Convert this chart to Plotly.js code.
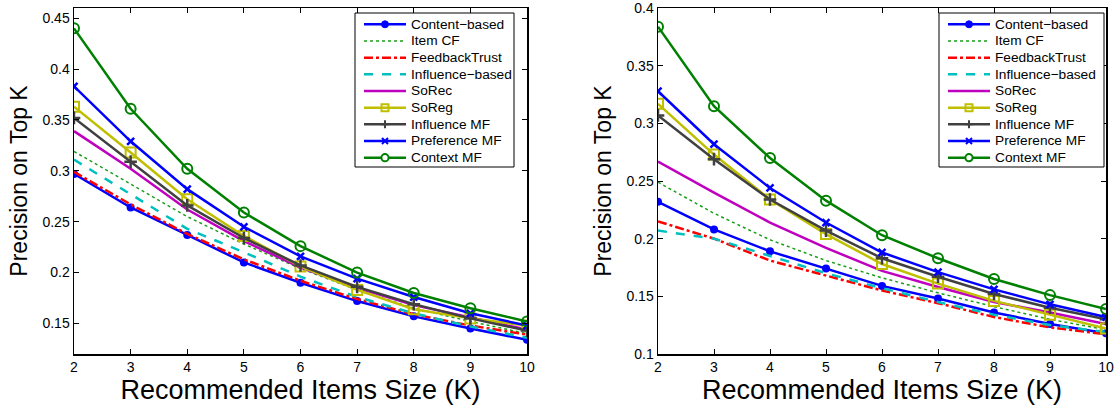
<!DOCTYPE html>
<html>
<head>
<meta charset="utf-8">
<script src="https://cdn.plot.ly/plotly-3.0.1.min.js"></script>
<style>html,body{margin:0;padding:0;background:#fff;}#chart{width:1118px;height:407px;}</style>
</head>
<body>
<div id="chart"></div>
<script>
const K = [2, 3, 4, 5, 6, 7, 8, 9, 10];
const seriesNames = ["Content\u2212based", "Item CF", "FeedbackTrust", "Influence\u2212based", "SoRec", "SoReg", "Influence MF", "Preference MF", "Context MF"];

// Left panel
const leftContentBased   = [0.297, 0.264, 0.237, 0.210, 0.190, 0.172, 0.157, 0.145, 0.134];
const leftItemCF         = [0.319, 0.287, 0.255, 0.228, 0.204, 0.183, 0.165, 0.152, 0.140];
const leftFeedbackTrust  = [0.299, 0.267, 0.238, 0.213, 0.192, 0.174, 0.159, 0.148, 0.139];
const leftInfluenceBased = [0.311, 0.277, 0.243, 0.220, 0.196, 0.176, 0.160, 0.147, 0.136];
const leftSoRec          = [0.339, 0.302, 0.262, 0.231, 0.205, 0.185, 0.168, 0.156, 0.144];
const leftSoReg          = [0.363, 0.318, 0.272, 0.236, 0.206, 0.183, 0.164, 0.155, 0.148];
const leftInfluenceMF    = [0.352, 0.309, 0.266, 0.234, 0.207, 0.186, 0.169, 0.155, 0.143];
const leftPreferenceMF   = [0.383, 0.329, 0.282, 0.245, 0.216, 0.194, 0.176, 0.160, 0.148];
const leftContextMF      = [0.440, 0.361, 0.302, 0.259, 0.226, 0.200, 0.180, 0.165, 0.152];

// Right panel
const rightContentBased   = [0.232, 0.208, 0.189, 0.174, 0.159, 0.148, 0.136, 0.126, 0.118];
const rightItemCF         = [0.249, 0.222, 0.199, 0.181, 0.166, 0.153, 0.141, 0.130, 0.121];
const rightFeedbackTrust  = [0.215, 0.200, 0.181, 0.168, 0.155, 0.144, 0.132, 0.123, 0.117];
const rightInfluenceBased = [0.207, 0.200, 0.185, 0.170, 0.157, 0.145, 0.134, 0.125, 0.119];
const rightSoRec          = [0.267, 0.240, 0.214, 0.192, 0.172, 0.158, 0.145, 0.136, 0.126];
const rightSoReg          = [0.317, 0.273, 0.234, 0.204, 0.178, 0.161, 0.146, 0.134, 0.122];
const rightInfluenceMF    = [0.307, 0.269, 0.234, 0.207, 0.183, 0.167, 0.152, 0.140, 0.130];
const rightPreferenceMF   = [0.328, 0.282, 0.244, 0.214, 0.188, 0.171, 0.156, 0.143, 0.132];
const rightContextMF      = [0.384, 0.315, 0.270, 0.233, 0.203, 0.183, 0.165, 0.151, 0.139];

const leftYTicks  = [0.15, 0.2, 0.25, 0.3, 0.35, 0.4, 0.45];
const leftYText   = ["0.15", "0.2", "0.25", "0.3", "0.35", "0.4", "0.45"];
const rightYTicks = [0.1, 0.15, 0.2, 0.25, 0.3, 0.35, 0.4];
const rightYText  = ["0.1", "0.15", "0.2", "0.25", "0.3", "0.35", "0.4"];

const COLORS = ["#0000FF", "#1a9e1a", "#FF0000", "#00BFBF", "#BF00BF", "#BFBF00", "#404040", "#0000FF", "#008000"];
const DASHES = ["solid", "dot", "dashdot", "dash", "solid", "solid", "solid", "solid", "solid"];
const WIDTHS = [2.5, 1.5, 2.5, 2.5, 2.5, 2.5, 2.5, 2.5, 2.5];
const MARKERS = [
  {symbol: "circle", size: 8, color: COLORS[0]},
  null, null, null, null,
  {symbol: "square-open", size: 10, color: COLORS[5], line: {width: 2, color: COLORS[5]}},
  {symbol: "cross-thin-open", size: 9, color: COLORS[6], line: {width: 2.5, color: COLORS[6]}},
  {symbol: "x-thin-open", size: 7, color: COLORS[7], line: {width: 2.5, color: COLORS[7]}},
  {symbol: "circle-open", size: 10, color: COLORS[8], line: {width: 2, color: COLORS[8]}}
];

const leftData = [leftContentBased, leftItemCF, leftFeedbackTrust, leftInfluenceBased, leftSoRec, leftSoReg, leftInfluenceMF, leftPreferenceMF, leftContextMF];
const rightData = [rightContentBased, rightItemCF, rightFeedbackTrust, rightInfluenceBased, rightSoRec, rightSoReg, rightInfluenceMF, rightPreferenceMF, rightContextMF];

function makeTrace(ys, i, xa, ya) {
  const t = {x: K, y: ys, name: seriesNames[i], type: "scatter", xaxis: xa, yaxis: ya, showlegend: false,
    mode: MARKERS[i] ? "lines+markers" : "lines",
    line: {color: COLORS[i], width: WIDTHS[i], dash: DASHES[i]}};
  if (MARKERS[i]) t.marker = JSON.parse(JSON.stringify(MARKERS[i]));
  return t;
}
const traces = [];
leftData.forEach((ys, i) => traces.push(makeTrace(ys, i, "x", "y")));
rightData.forEach((ys, i) => traces.push(makeTrace(ys, i, "x2", "y2")));

const FONT = "Liberation Sans, Arial, Helvetica, sans-serif";
const W = 1118, MT = 8, MB = 53, H = 407;
const PH = H - MT - MB;
const px = v => v / W;
const py = v => (H - MB - v) / PH;

const axisCommon = {
  showline: true, linecolor: "#000", linewidth: 1.5, mirror: "ticks",
  ticks: "inside", ticklen: 5, tickwidth: 1, tickcolor: "#000",
  showgrid: false, zeroline: false, ticklabeloverflow: "allow",
  tickfont: {family: FONT, size: 14, color: "#000"}
};
function xAxis(domain, anchor) {
  return Object.assign({}, axisCommon, {
    domain: domain, anchor: anchor, range: [2, 10], tickvals: K, ticktext: K.map(String),
    title: {text: "Recommended Items Size (K)", font: {family: FONT, size: 27, color: "#000"}, standoff: 3}
  });
}
function yAxis(anchor, range, tv, tt) {
  return Object.assign({}, axisCommon, {
    domain: [0, 1], anchor: anchor, range: range, tickvals: tv, ticktext: tt,
    title: {text: "Precision on Top K", font: {family: FONT, size: 23, color: "#000"}, standoff: 8}
  });
}

// Legend (drawn as shapes + text annotations)
const shapes = [];
const annotations = [];
function buildLegend(box, sx0, sx1, tx) {
  shapes.push({type: "rect", xref: "paper", yref: "paper", x0: px(box[0]), x1: px(box[1]), y0: py(box[2]), y1: py(box[3]),
    fillcolor: "#fff", line: {color: "#000", width: 1}, layer: "above"});
  const mx = (sx0 + sx1) / 2;
  seriesNames.forEach((name, i) => {
    const cy = box[2] + 11.3 + i * 16.67;
    shapes.push({type: "line", xref: "paper", yref: "paper", x0: px(sx0), x1: px(sx1), y0: py(cy), y1: py(cy),
      line: {color: COLORS[i], width: WIDTHS[i], dash: DASHES[i]}, layer: "above"});
    const m = MARKERS[i];
    if (m) {
      const c = COLORS[i];
      if (m.symbol === "circle") {
        const r = 3.5;
        shapes.push({type: "circle", xref: "paper", yref: "paper", x0: px(mx - r), x1: px(mx + r), y0: py(cy + r), y1: py(cy - r), fillcolor: c, line: {color: c, width: 1}, layer: "above"});
      } else if (m.symbol === "circle-open") {
        const r = 3.6;
        shapes.push({type: "circle", xref: "paper", yref: "paper", x0: px(mx - r), x1: px(mx + r), y0: py(cy + r), y1: py(cy - r), fillcolor: "#fff", line: {color: c, width: 2}, layer: "above"});
      } else if (m.symbol === "square-open") {
        const r = 3.5;
        shapes.push({type: "rect", xref: "paper", yref: "paper", x0: px(mx - r), x1: px(mx + r), y0: py(cy + r), y1: py(cy - r), fillcolor: "rgba(0,0,0,0)", line: {color: c, width: 2}, layer: "above"});
      } else if (m.symbol === "cross-thin-open") {
        const r = 4;
        shapes.push({type: "path", xref: "paper", yref: "paper", path: `M${px(mx)},${py(cy - r)} L${px(mx)},${py(cy + r)} M${px(mx - r)},${py(cy)} L${px(mx + r)},${py(cy)}`, line: {color: c, width: 2}, layer: "above"});
      } else if (m.symbol === "x-thin-open") {
        const r = 3;
        shapes.push({type: "path", xref: "paper", yref: "paper", path: `M${px(mx - r)},${py(cy - r)} L${px(mx + r)},${py(cy + r)} M${px(mx - r)},${py(cy + r)} L${px(mx + r)},${py(cy - r)}`, line: {color: c, width: 2}, layer: "above"});
      }
    }
    annotations.push({xref: "paper", yref: "paper", x: px(tx), y: py(cy), xanchor: "left", yanchor: "middle", showarrow: false,
      text: name, font: {family: FONT, size: 13.7, color: "#000"}});
  });
}
buildLegend([355, 514, 13, 167], 364, 406, 409);
buildLegend([939, 1104, 13, 167], 948, 990, 993);

const layout = {
  width: W, height: H,
  margin: {l: 0, r: 0, t: MT, b: MB},
  paper_bgcolor: "#fff", plot_bgcolor: "#fff",
  showlegend: false,
  xaxis: xAxis([74 / W, 527 / W], "y"),
  yaxis: yAxis("x", [0.12, 0.46], leftYTicks, leftYText),
  xaxis2: xAxis([658 / W, 1106 / W], "y2"),
  yaxis2: yAxis("x2", [0.0999, 0.4002], rightYTicks, rightYText),
  shapes: shapes,
  annotations: annotations
};

Plotly.newPlot("chart", traces, layout, {displayModeBar: false, staticPlot: true});
</script>
</body>
</html>
